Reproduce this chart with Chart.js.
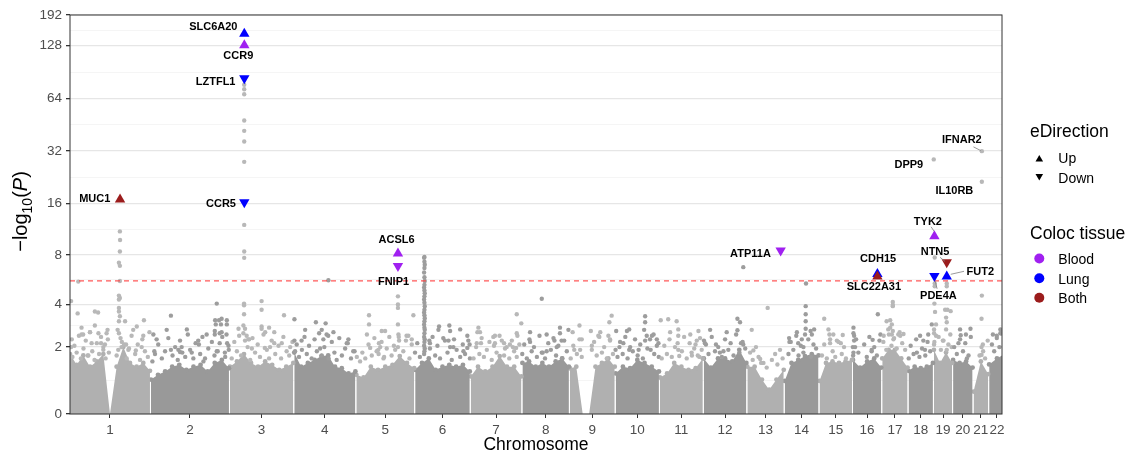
<!DOCTYPE html>
<html>
<head>
<meta charset="utf-8">
<script src="https://cdn.jsdelivr.net/npm/chart.js@4.4.1/dist/chart.umd.min.js"></script>
<style>
  html, body { margin: 0; padding: 0; background: #fff; }
</style>
</head>
<body>
<canvas id="manhattan" width="1128" height="457"></canvas>
<script>
// --- Datos ---
const chrNames = ['1','2','3','4','5','6','7','8','9','10','11','12','13','14','15','16','17','18','19','20','21','22'];
const chrLenMb = [249, 243, 198, 191, 181, 171, 159, 146, 141, 136, 135, 134, 115, 107, 103, 90, 81, 78, 59, 63, 48, 51];
const yTickLabels = [0, 2, 4, 8, 16, 32, 64, 128, 192];
const threshold = 5.6;

// top of the dense cloud per chromosome (-log10 P), evenly spread along each chromosome
const massTop = [
  [1.75, 1.39, 1.7, 1.33, 1.5, 1.75, 0, 1.33, 2.0, 1.45, 1.33, 1.45, 1.2],
  [0.94, 1.08, 1.18, 1.33, 1.39, 1.23, 1.33, 1.39, 1.18, 1.45, 1.55, 1.28],
  [1.33, 1.5, 1.75, 1.45, 1.33, 1.5, 1.39, 1.23, 1.33, 1.45],
  [1.8, 1.33, 1.45, 1.55, 1.68, 1.7, 1.33, 1.28, 1.12, 1.18],
  [1.08, 1.0, 1.33, 1.23, 1.33, 1.39, 1.68, 1.45, 1.28],
  [1.23, 1.45, 1.6, 1.23, 1.33, 1.39, 1.33, 1.39, 1.18],
  [1.03, 1.33, 1.18, 1.33, 1.68, 1.33, 1.33, 1.03],
  [1.45, 1.5, 1.33, 1.45, 1.33, 1.5, 1.6, 1.33],
  [1.28, 1.33, 0, 0, 1.33, 1.45, 1.6, 1.33],
  [1.12, 1.33, 1.28, 1.55, 1.45, 1.33, 1.18],
  [1.0, 1.12, 1.45, 1.33, 1.23, 1.28, 1.6],
  [1.6, 1.3, 1.6, 1.6, 1.5, 1.9, 1.45],
  [1.33, 1.33, 0.94, 0.65, 0.94, 1.23],
  [0.9, 1.45, 1.55, 1.68, 1.75, 1.7],
  [0.9, 1.45, 1.5, 1.45, 1.5, 1.55],
  [1.55, 1.3, 1.5, 1.6, 1.3],
  [1.6, 1.9, 1.9, 1.6, 1.3],
  [1.2, 1.33, 1.28, 1.33, 1.45],
  [1.9, 1.45, 1.8, 1.45],
  [1.55, 1.45, 1.5, 1.3],
  [0.6, 1.5, 1.1],
  [1.4, 1.6, 1.75]
];

// genes just above the cloud: [genome position (Mb), -log10 P]
const sprayDots = [
  [9, 1.65], [15, 2.05], [22, 1.8], [29, 2.45], [35, 1.6], [43, 1.95], [50, 2.25], [56, 1.7], [63, 2.6],
  [70, 1.85], [77, 1.55], [84, 2.15], [91, 1.75], [97, 2.4], [104, 1.9], [111, 1.6], [118, 2.3], [121, 1.8],
  [5, 2.0], [37, 2.8], [58, 1.7], [89, 2.55], [109, 2.1],
  [145, 1.7], [161, 2.2], [176, 1.6], [183, 1.95], [191, 2.45], [202, 1.75], [210, 2.1], [217, 1.55],
  [224, 2.3], [232, 1.85], [241, 1.65], [196, 2.7], [222, 2.0], [181, 1.9],
  [255, 1.5], [263, 1.75], [273, 2.1], [284, 1.6], [294, 1.85], [304, 2.35], [317, 1.7], [325, 2.0],
  [333, 1.55], [340, 2.25], [347, 1.8], [356, 1.65], [364, 2.5], [371, 1.9], [381, 1.6], [388, 2.15],
  [402, 1.75], [409, 2.4], [417, 1.6], [427, 1.95], [438, 2.2], [446, 1.7], [456, 1.85], [468, 2.6],
  [479, 1.65], [489, 2.05], [268, 2.3], [299, 2.7], [345, 2.0], [376, 1.8], [422, 2.5],
  [499, 1.6], [507, 2.2], [515, 1.85], [522, 2.45], [528, 1.7], [548, 2.0], [556, 1.55], [563, 2.35],
  [571, 1.8], [579, 2.1], [586, 1.65], [597, 2.5], [607, 1.9], [614, 1.6], [622, 2.25], [633, 1.75],
  [643, 2.05], [651, 1.6], [658, 2.4], [668, 1.85], [676, 1.7], [686, 2.2], [520, 2.75], [561, 1.95],
  [602, 2.6], [653, 2.15],
  [699, 2.1], [706, 1.65], [715, 1.9], [723, 2.4], [730, 1.75], [737, 2.05], [745, 1.6], [754, 2.3],
  [761, 1.85], [768, 2.55], [776, 1.7], [784, 2.0], [797, 1.6], [807, 2.2], [815, 1.8], [822, 1.55],
  [830, 2.35], [838, 1.7], [848, 1.95], [856, 2.15], [866, 1.6], [877, 1.85], [884, 1.65], [725, 2.7],
  [771, 1.95], [812, 2.6], [858, 2.3],
  [894, 1.5], [901, 1.8], [910, 1.6], [920, 2.1], [930, 1.7], [938, 2.35], [945, 1.85], [956, 2.0],
  [966, 1.6], [915, 2.5], [951, 1.75], [960, 2.2], [968, 1.65], [976, 1.95], [984, 2.4], [991, 1.7],
  [998, 2.05], [1027, 1.85], [1035, 2.25], [1046, 1.6], [1053, 2.1], [971, 2.65], [1002, 1.9], [1037, 2.45],
  [1063, 1.8], [1070, 2.15], [1078, 1.65], [1109, 1.95], [1117, 2.4], [1125, 1.7], [1132, 2.05], [1140, 1.6],
  [1155, 2.25], [1163, 1.8], [1176, 1.55], [1183, 2.3], [1191, 1.9], [1202, 1.65], [1210, 2.1], [1217, 1.75],
  [1224, 2.45], [1232, 1.6], [1135, 2.7], [1181, 2.0], [1212, 1.85],
  [1243, 1.6], [1251, 2.0], [1261, 1.75], [1268, 2.35], [1275, 1.65], [1284, 1.9], [1292, 2.2], [1299, 1.55],
  [1306, 2.05], [1314, 1.8], [1323, 2.45], [1337, 1.7], [1345, 2.0], [1353, 1.6], [1361, 2.25], [1368, 1.85],
  [1376, 1.65], [1384, 2.1], [1263, 2.6], [1304, 2.4], [1340, 1.95],
  [1393, 1.75], [1399, 2.1], [1407, 1.6], [1415, 2.3], [1422, 1.85], [1429, 2.0], [1438, 1.65], [1446, 2.45],
  [1453, 1.8], [1463, 1.6], [1473, 2.15], [1481, 1.9], [1489, 2.35], [1497, 1.7], [1504, 2.05], [1515, 1.6],
  [1522, 2.25], [1530, 1.85], [1417, 2.6], [1468, 2.5],
  [1542, 1.6], [1550, 2.05], [1561, 1.75], [1569, 2.3], [1576, 1.65], [1607, 1.9], [1614, 2.2], [1622, 1.7],
  [1630, 2.4], [1638, 1.8], [1645, 2.0], [1653, 1.6], [1663, 2.25], [1672, 1.75], [1633, 2.6],
  [1680, 1.9], [1686, 1.65], [1694, 2.2], [1702, 1.75], [1710, 2.4], [1717, 1.6], [1725, 2.0], [1733, 1.85],
  [1740, 2.3], [1748, 1.7], [1756, 2.1], [1764, 1.6], [1778, 1.95], [1792, 2.45], [1799, 1.75], [1807, 2.05],
  [1813, 1.65], [1715, 2.65], [1751, 1.9], [1797, 2.5],
  [1822, 1.6], [1830, 2.05], [1838, 1.75], [1846, 2.3], [1853, 1.65], [1863, 2.0], [1884, 1.85], [1891, 2.4],
  [1899, 1.6], [1908, 2.15], [1915, 1.7], [1922, 1.95], [1930, 2.25], [1938, 1.65], [1848, 2.6], [1910, 2.5],
  [1914, 1.8], [1926, 2.1], [1933, 1.7], [1940, 2.35], [1945, 1.9],
  [1958, 2.1], [1966, 1.75], [1976, 2.4], [1986, 1.85], [1996, 2.0], [2007, 1.65], [2017, 2.3], [2027, 1.9],
  [2034, 2.15], [2043, 1.7], [2051, 2.5], [2061, 1.8], [2071, 2.2], [2079, 1.95], [1971, 2.7], [2022, 2.6],
  [2094, 1.8], [2102, 1.55], [2112, 2.0], [2120, 1.65], [2135, 1.45], [2145, 1.3], [2161, 1.55], [2171, 1.75],
  [2178, 1.4], [2186, 1.9], [2194, 1.6],
  [2212, 1.75], [2219, 2.2], [2227, 1.9], [2236, 2.45], [2243, 1.7], [2250, 2.05], [2258, 1.8], [2273, 2.3],
  [2281, 1.65], [2289, 2.1], [2297, 1.95], [2238, 2.6], [2284, 2.5],
  [2315, 1.7], [2322, 2.1], [2330, 1.6], [2340, 2.3], [2348, 1.85], [2356, 1.65], [2366, 2.2], [2376, 1.75],
  [2383, 2.0], [2389, 1.6], [2350, 2.5],
  [2410, 2.0], [2411, 1.7], [2420, 2.3], [2427, 1.8], [2445, 2.1], [2453, 1.65], [2461, 2.4], [2468, 1.85],
  [2476, 2.0], [2484, 1.7], [2492, 2.25],
  [2504, 2.2], [2513, 1.9], [2521, 2.5], [2529, 2.05], [2537, 2.35], [2545, 1.95], [2554, 2.6], [2562, 2.15],
  [2571, 1.9], [2525, 2.8], [2556, 2.45],
  [2582, 1.6], [2588, 2.05], [2597, 1.75], [2605, 2.3], [2615, 1.65], [2623, 1.95], [2633, 1.7], [2640, 2.2],
  [2648, 1.85], [2617, 2.45],
  [2660, 2.1], [2674, 2.4], [2681, 1.9], [2687, 2.25], [2710, 2.5], [2714, 2.0],
  [2722, 2.0], [2730, 1.75], [2740, 2.3], [2749, 1.85], [2756, 2.15], [2766, 1.7], [2773, 2.4],
  [2800, 1.7], [2810, 2.1], [2817, 1.6], [2825, 2.25],
  [2838, 2.1], [2845, 1.85], [2853, 2.35], [2861, 2.0], [2866, 2.55]
];

// scattered genes higher up: [genome position (Mb), -log10 P]
const grayDots = [
  [25, 3.5], [78, 3.6], [78, 2.9], [42, 2.5], [37, 2.5], [63, 2.6], [7, 2.3], [117, 2.7], [114, 2.55],
  [97, 2.15], [104, 2.0], [68, 2.15], [27, 5.55], [5, 4.2], [88, 3.55],
  [155, 11.0], [155.5, 9.8], [155, 8.4], [152, 7.2], [155, 6.9], [155, 5.6], [152, 4.55], [155, 4.4],
  [152, 4.3], [152, 3.8], [152, 3.6], [155, 3.35], [152, 3.1], [171, 3.1], [148, 2.7], [152, 2.55],
  [157, 2.35], [168, 2.1], [174, 2.1], [160, 2.0], [150, 1.9],
  [207, 2.85], [229, 3.15], [204, 1.88], [227, 2.45], [246, 2.6],
  [258, 2.5], [261, 1.85], [312, 3.38], [361, 2.72], [312, 1.9], [335, 1.9], [340, 1.82], [396, 2.25],
  [398, 2.1], [412, 1.5],
  [453, 4.05], [448, 3.15], [460, 3.15], [468, 3.22], [484, 3.15], [450, 2.95], [466, 2.95], [484, 2.95],
  [447, 2.65], [462, 2.55], [483, 2.5], [447, 2.5], [470, 2.4], [462, 2.15], [485, 2.15], [453, 1.85],
  [478, 1.8], [490, 1.9],
  [537.5, 76.5], [537.5, 72.2], [537.5, 67.6], [537.5, 47.8], [537.5, 41.7], [537.5, 36.2], [537.5, 27.7],
  [537.5, 12.0], [537.5, 8.4], [537.5, 7.7], [537, 4.05], [537, 3.95], [537, 3.45], [535, 2.9], [540, 2.75],
  [535, 2.55], [545, 2.45], [540, 2.25], [550, 2.3], [553, 2.3],
  [591, 4.2], [591, 3.7], [591, 2.85], [614, 2.8], [591, 2.75], [630, 2.6], [601, 1.97], [617, 2.0],
  [630, 2.15], [660, 3.4], [679, 2.0],
  [692, 3.2], [692, 2.25], [714, 2.25], [694, 1.85], [758, 3.05], [788, 3.0], [776, 2.7], [791, 2.5],
  [796, 2.45], [781, 2.3], [853, 2.15], [873, 1.85], [796.5, 5.65],
  [921.5, 3.4], [921.5, 2.95], [925, 1.97], [950, 1.9], [960.6, 2.65], [952, 2.15],
  [1010.5, 4.5], [1010.5, 4.0], [1010.5, 3.8], [1010.5, 2.95], [1012, 2.5], [1013, 2.4], [1014, 2.25],
  [1010.5, 2.0], [1058, 3.4], [1042.5, 2.45], [1053, 2.3],
  [1092, 7.8], [1091, 7.7], [1092, 7.3], [1093, 7.0], [1092, 6.7], [1091, 6.3], [1092, 5.9], [1093, 5.6],
  [1092, 5.3], [1091, 5.1], [1092, 4.9], [1093, 4.7], [1092, 4.5], [1091, 4.3], [1092, 4.1], [1093, 3.9],
  [1092, 3.7], [1091, 3.55], [1092, 3.4], [1093, 3.25], [1092, 3.1], [1091, 2.95], [1092, 2.8], [1093, 2.7],
  [1092, 2.55], [1091, 2.4], [1093, 2.3], [1092, 2.2], [1091, 2.05], [1093, 1.95], [1092, 1.85], [1091, 1.75],
  [1107, 2.25], [1109, 2.15], [1137, 2.85], [1168.6, 2.9], [1171, 2.65], [1150, 2.35], [1166, 2.25],
  [1171, 2.0], [1202, 2.72], [1227, 2.25], [1231, 2.1], [1224, 1.97],
  [1258, 2.8], [1255, 2.6], [1253, 2.15], [1266, 2.15], [1309, 2.45], [1309, 2.15], [1330, 2.25],
  [1337, 2.15], [1355, 2.1], [1364, 2.0], [1374, 1.97], [1376, 3.45], [1390, 3.0], [1376, 2.55], [1378, 2.45],
  [1417, 2.2], [1453, 4.35], [1456, 1.8], [1468, 1.85], [1492, 2.25], [1499, 2.0], [1509, 2.55], [1509, 2.8],
  [1514, 2.25], [1535, 2.7],
  [1548, 2.6], [1569, 2.9], [1553, 1.9], [1571, 1.9], [1576, 2.3], [1604, 2.65], [1607, 2.05], [1627, 2.45],
  [1661, 3.05], [1668, 3.38], [1658, 2.45], [1663, 2.3],
  [1682, 2.65], [1692, 2.0], [1704, 2.15], [1722, 2.72], [1722, 1.9], [1771, 3.35], [1771, 3.05], [1768, 2.7],
  [1776, 2.45], [1771, 2.25], [1786, 2.3], [1788, 1.9], [1807, 2.3], [1812, 2.15],
  [1819, 3.15], [1842, 3.2], [1868, 3.1], [1873, 2.72], [1873, 2.45], [1871, 2.15], [1873, 1.9], [1876, 1.68],
  [1935, 2.65],
  [1952, 2.25], [1955, 2.15], [1989, 2.1], [2001, 1.8], [2012, 1.85], [2055, 3.22], [2063, 3.05], [2055, 2.68],
  [2066, 2.15], [2073, 2.1], [2073, 6.78],
  [2099, 2.7], [2104, 1.88], [2125, 1.58], [2128, 1.45], [2148, 3.8],
  [2214, 2.35], [2215, 2.2], [2242, 2.15], [2253, 2.3], [2258, 2.0], [2265, 3.9], [2265, 3.45], [2265, 3.1],
  [2265, 2.75], [2263, 2.5], [2280, 2.65], [2291, 2.72], [2266, 5.4],
  [2322, 3.22], [2335, 2.72], [2338, 2.5], [2340, 2.15], [2361, 2.25], [2379, 2.48], [2373, 2.15],
  [2412, 2.8], [2412, 2.55], [2414, 2.45], [2414, 2.25], [2417, 2.0], [2412, 1.8],
  [2471, 2.28], [2468, 1.9], [2487, 3.45], [2495, 2.5],
  [2505, 2.45], [2514, 3.1], [2525, 3.15], [2530, 2.95], [2519, 2.72], [2533, 2.65], [2530, 2.5], [2535, 2.3],
  [2550, 2.5], [2566, 2.52], [2533, 4.15], [2533, 3.97], [2533, 3.9],
  [2607, 1.8], [2627, 2.25], [2632, 1.9], [2642, 2.5], [2653, 2.95],
  [2666, 2.95], [2663, 3.58], [2661, 4.05], [2660, 2.72], [2660, 2.55], [2666, 2.45], [2661, 2.2],
  [2662, 7.73], [2662, 5.4], [2662, 5.2], [2694, 3.7], [2701, 3.7], [2697, 3.28], [2699, 3.05], [2697, 2.72],
  [2689, 2.25], [2704, 2.1], [2699, 1.9], [2711, 3.62], [2699, 5.4], [2699, 5.2],
  [2740, 2.72], [2742, 2.47], [2758, 2.5], [2772, 2.75], [2735, 2.15], [2761, 1.6],
  [2806, 3.22], [2806, 2.0], [2811, 1.85], [2806, 1.72], [2807, 4.55],
  [2841, 2.5], [2853, 2.45], [2864, 2.55], [2864, 2.72]
];

// labelled grey genes
const grayLabel = ['DPP9', 'IFNAR2', 'IL10RB'];
const grayLabelPos = [2659, 2807, 2807];
const grayLabelLogP = [28.6, 31.9, 21.3];

// colocalised genes
const hitGene = ['SLC6A20', 'CCR9', 'LZTFL1', 'CCR5', 'MUC1', 'ACSL6', 'FNIP1', 'ATP11A', 'CDH15', 'SLC22A31', 'TYK2', 'NTN5', 'FUT2', 'PDE4A'];
const hitPos = [537.8, 537.8, 537.8, 537.8, 155.5, 1010.5, 1010.5, 2188, 2485.6, 2485.6, 2661, 2699, 2699, 2661];
const hitLogP = [150, 129, 83.3, 16.2, 16.8, 8.16, 6.89, 8.5, 6.17, 5.95, 10.3, 7.25, 5.95, 6.0];
const hitDir = ['Up', 'Up', 'Down', 'Down', 'Up', 'Up', 'Down', 'Down', 'Up', 'Up', 'Up', 'Down', 'Up', 'Down'];
const hitTissue = ['Lung', 'Blood', 'Lung', 'Lung', 'Both', 'Blood', 'Blood', 'Blood', 'Lung', 'Both', 'Blood', 'Both', 'Lung', 'Lung'];

// --- Estilos ---
const FONT = "'Liberation Sans', Arial, sans-serif";
const tissueColor = { Blood: '#a020f0', Lung: '#0000ff', Both: '#9b1c1c' };
const dotShade = ['#b8b8b8', '#9d9d9d'];
const massShade = ['#b0b0b0', '#999999'];
// label placement relative to the mark: [dx, dy, optional leader segment]
const labelStyle = {
  SLC6A20: [-31, -7], CCR9: [-6, 11], LZTFL1: [-28.7, 3.2], CCR5: [-23.3, 1.5], MUC1: [-25.3, -0.5],
  ACSL6: [-1.4, -13.8], FNIP1: [-4.4, 15.5], ATP11A: [-30.2, 3.2], CDH15: [0.7, -14.9], SLC22A31: [-3.5, 9.9],
  TYK2: [-6.5, -14.2, [-3.3, -9.5, -0.3, -5]], NTN5: [-11.7, -10.2, [-6.7, -5, -1.7, -0.8]],
  FUT2: [33.6, -4.5, [4, -2.3, 17.3, -5.3]], PDE4A: [4, 19.8, [0.7, 4.8, 2.7, 12.8]],
  DPP9: [-24.9, 5.3], IFNAR2: [-20, -11.3, [-8.4, -4.3, -1.2, -0.6]], IL10RB: [-27.5, 9]
};

const chrStart = [];
let acc = 0;
chrLenMb.forEach(l => { chrStart.push(acc); acc += l; });
const chrCenters = chrLenMb.map((l, i) => chrStart[i] + l / 2);
const chrOf = pos => { let c = 0; while (c < 21 && pos >= chrStart[c + 1]) c++; return c; };
const X_MIN = 1.5, X_MAX = 2869;

// --- Escala pseudo-log (asinh, base 2) ---
const pseudo = v => Math.asinh(v / 2) / Math.LN2;
const pseudoInv = t => 2 * Math.sinh(t * Math.LN2);
const LinearScale = Chart.registry.getScale('linear');
class PseudoLogScale extends LinearScale {
  configure() {
    super.configure();
    this._startValue = pseudo(this.min);
    this._endValue = pseudo(this.max);
    this._valueRange = this._endValue - this._startValue;
  }
  getPixelForValue(value) {
    return value === null ? NaN : this.getPixelForDecimal((pseudo(value) - this._startValue) / this._valueRange);
  }
  getValueForPixel(pixel) {
    return pseudoInv(this._startValue + this.getDecimalForPixel(pixel) * this._valueRange);
  }
  buildTicks() {
    const ticks = [];
    yTickLabels.forEach((v, i) => {
      ticks.push({ value: v, isMajor: true });
      if (i < yTickLabels.length - 1) {
        ticks.push({ value: pseudoInv((pseudo(v) + pseudo(yTickLabels[i + 1])) / 2), isMajor: false });
      }
    });
    return ticks;
  }
}
PseudoLogScale.id = 'pseudolog';
PseudoLogScale.defaults = LinearScale.defaults;
Chart.register(PseudoLogScale);

// --- Datasets ---
const massDatasets = massTop.map((vals, c) => {
  const n = vals.length, start = chrStart[c], len = chrLenMb[c];
  const col = massShade[c % 2];
  return {
    type: 'line',
    data: vals.map((v, k) => ({ x: start + 1.5 + k * (len - 3) / (n - 1), y: v })),
    fill: 'origin',
    backgroundColor: col,
    borderWidth: 0,
    borderColor: col,
    pointRadius: ctx => (ctx.raw && ctx.raw.y > 0 ? 2.4 : 0),
    pointBackgroundColor: col,
    pointBorderWidth: 0,
    tension: 0,
    order: 30
  };
});

const dotColor = ctx => dotShade[chrOf(ctx.raw ? ctx.raw.x : 0) % 2];

const datasets = [
  ...massDatasets,
  {
    type: 'scatter',
    data: sprayDots.map(([x, y]) => ({ x, y })),
    pointRadius: 2.2,
    pointBorderWidth: 0,
    pointBackgroundColor: dotColor,
    order: 25
  },
  {
    type: 'scatter',
    data: grayDots.map(([x, y]) => ({ x, y })),
    pointRadius: 2.2,
    pointBorderWidth: 0,
    pointBackgroundColor: dotColor,
    order: 20
  },
  {
    type: 'scatter',
    data: grayLabel.map((g, i) => ({ x: grayLabelPos[i], y: grayLabelLogP[i], gene: g })),
    pointRadius: 2.2,
    pointBorderWidth: 0,
    pointBackgroundColor: dotColor,
    order: 19
  },
  {
    type: 'line',
    data: [{ x: X_MIN, y: threshold }, { x: X_MAX, y: threshold }],
    borderColor: 'rgba(255, 70, 70, 0.9)',
    borderWidth: 1.2,
    borderDash: [5, 4],
    pointRadius: 0,
    fill: false,
    order: 10
  },
  {
    type: 'scatter',
    data: hitGene.map((g, i) => ({ x: hitPos[i], y: hitLogP[i], gene: g, dir: hitDir[i], tissue: hitTissue[i] })),
    pointStyle: 'triangle',
    pointRadius: 6,
    pointBorderWidth: 0,
    pointRotation: ctx => (ctx.raw && ctx.raw.dir === 'Down' ? 180 : 0),
    pointBackgroundColor: ctx => (ctx.raw ? tissueColor[ctx.raw.tissue] : '#000'),
    order: 0
  }
];

// --- Decoración: marco, etiquetas, títulos y leyenda ---
const decorations = {
  id: 'decorations',
  afterDraw(chart) {
    const { ctx, chartArea: a, scales: { x, y } } = chart;
    ctx.save();

    // panel border
    ctx.strokeStyle = '#333333';
    ctx.lineWidth = 1;
    ctx.strokeRect(a.left, a.top, a.right - a.left, a.bottom - a.top);

    // gene labels
    ctx.font = 'bold 11px ' + FONT;
    ctx.fillStyle = '#000';
    ctx.textAlign = 'center';
    ctx.textBaseline = 'middle';
    const labelAt = (name, pos, val) => {
      const st = labelStyle[name];
      if (!st) return;
      const px = x.getPixelForValue(pos), py = y.getPixelForValue(val);
      if (st[2]) {
        const s = st[2];
        ctx.strokeStyle = '#808080';
        ctx.lineWidth = 0.8;
        ctx.beginPath();
        ctx.moveTo(px + s[0], py + s[1]);
        ctx.lineTo(px + s[2], py + s[3]);
        ctx.stroke();
      }
      ctx.fillText(name, px + st[0], py + st[1]);
    };
    hitGene.forEach((g, i) => labelAt(g, hitPos[i], hitLogP[i]));
    grayLabel.forEach((g, i) => labelAt(g, grayLabelPos[i], grayLabelLogP[i]));

    // x title
    ctx.font = '17.5px ' + FONT;
    ctx.textBaseline = 'alphabetic';
    ctx.fillText('Chromosome', (a.left + a.right) / 2, 450);

    // y title: −log10(P)
    const parts = [
      { t: '\u2212log', f: '20px ' + FONT, dy: 0 },
      { t: '10', f: '14px ' + FONT, dy: 4.5 },
      { t: '(', f: '20px ' + FONT, dy: 0 },
      { t: 'P', f: 'italic 20px ' + FONT, dy: 0 },
      { t: ')', f: '20px ' + FONT, dy: 0 }
    ];
    let total = 0;
    parts.forEach(p => { ctx.font = p.f; p.w = ctx.measureText(p.t).width; total += p.w; });
    ctx.save();
    ctx.translate(27, 211.5);
    ctx.rotate(-Math.PI / 2);
    ctx.textAlign = 'left';
    let cx = -total / 2;
    parts.forEach(p => { ctx.font = p.f; ctx.fillText(p.t, cx, p.dy); cx += p.w; });
    ctx.restore();

    // legend
    ctx.textAlign = 'left';
    ctx.fillStyle = '#000';
    ctx.font = '17.5px ' + FONT;
    ctx.fillText('eDirection', 1030, 137.3);
    ctx.fillText('Coloc tissue', 1030, 239.3);
    ctx.font = '14px ' + FONT;
    const tri = (cx0, cy0, down) => {
      const w = 7.6, h = 6.6;
      ctx.beginPath();
      if (down) {
        ctx.moveTo(cx0 - w / 2, cy0 - h / 2); ctx.lineTo(cx0 + w / 2, cy0 - h / 2); ctx.lineTo(cx0, cy0 + h / 2);
      } else {
        ctx.moveTo(cx0, cy0 - h / 2); ctx.lineTo(cx0 + w / 2, cy0 + h / 2); ctx.lineTo(cx0 - w / 2, cy0 + h / 2);
      }
      ctx.closePath();
      ctx.fill();
    };
    tri(1039.3, 158.3, false);
    ctx.fillText('Up', 1058.3, 162.8);
    tri(1039.3, 177.3, true);
    ctx.fillText('Down', 1058.3, 182.5);
    [['Blood', 258.5], ['Lung', 278.3], ['Both', 297.8]].forEach(([name, cy0]) => {
      ctx.fillStyle = tissueColor[name];
      ctx.beginPath();
      ctx.arc(1039.3, cy0, 5, 0, Math.PI * 2);
      ctx.fill();
      ctx.fillStyle = '#000';
      ctx.fillText(name, 1058.3, cy0 + 5.2);
    });

    ctx.restore();
  }
};

new Chart(document.getElementById('manhattan').getContext('2d'), {
  type: 'scatter',
  data: { datasets },
  options: {
    responsive: false,
    animation: false,
    events: [],
    layout: { padding: { left: 0, right: 126, top: 15, bottom: 0 } },
    plugins: { legend: { display: false }, tooltip: { enabled: false } },
    scales: {
      x: {
        type: 'linear',
        min: X_MIN,
        max: X_MAX,
        afterBuildTicks: scale => { scale.ticks = chrCenters.map(v => ({ value: v })); },
        afterFit: scale => { scale.height = 43; },
        ticks: {
          callback: (v, i) => chrNames[i],
          autoSkip: false,
          maxRotation: 0,
          padding: 4,
          color: '#4d4d4d',
          font: { family: FONT, size: 13.5 }
        },
        grid: { drawOnChartArea: false, drawTicks: true, tickLength: 4, tickColor: '#333333' },
        border: { display: false }
      },
      y: {
        type: 'pseudolog',
        min: 0,
        max: 192,
        afterFit: scale => { scale.width = 70; },
        ticks: {
          callback: (v, i, ticks) => (ticks[i] && ticks[i].isMajor ? String(v) : ''),
          autoSkip: false,
          padding: 4,
          color: '#4d4d4d',
          font: { family: FONT, size: 13.5 }
        },
        grid: {
          color: ctx => (ctx.tick && ctx.tick.isMajor ? '#e6e6e6' : '#f2f2f2'),
          lineWidth: ctx => (ctx.tick && ctx.tick.isMajor ? 1.3 : 0.8),
          tickColor: ctx => (ctx.tick && ctx.tick.isMajor ? '#333333' : 'rgba(0,0,0,0)'),
          tickLength: 4,
          drawTicks: true
        },
        border: { display: false }
      }
    }
  },
  plugins: [decorations]
});
</script>
</body>
</html>
